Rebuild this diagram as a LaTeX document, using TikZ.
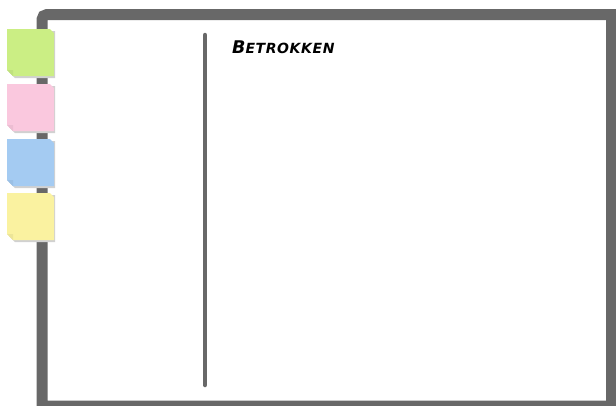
\documentclass[tikz,border=0pt]{standalone}
\usepackage{fontspec}
\newfontfamily\handfont{DejaVu Sans}
\definecolor{framegray}{RGB}{104,104,104}
\definecolor{notegreen}{RGB}{203,238,132}
\definecolor{notepink}{RGB}{250,200,222}
\definecolor{noteblue}{RGB}{164,203,242}
\definecolor{noteyellow}{RGB}{250,242,160}
\begin{document}
\begin{tikzpicture}[x=1pt,y=-1pt,
  frameline/.style={draw=framegray,line width=11pt,line join=miter},
  divider/.style={draw=framegray,line width=4.5pt,line cap=round},
  title/.style={anchor=base west,inner sep=0pt,text=black}]
\useasboundingbox (0,0) rectangle (616,405);
\begin{scope}
\clip (0,0) rectangle (616,405);
\draw[frameline] (611.5,420) -- (611.5,14.5) [rounded corners=5pt] -- (42,14.5) [sharp corners] -- (42,406) -- (630,406);
\end{scope}
\draw[divider] (205,35) coordinate (dtop) -- (205,385) coordinate (dbot);
\node[title] (t) at (232,53.5) {\handfont\bfseries\itshape\fontsize{17.5pt}{18pt}\selectfont B\fontsize{14pt}{14pt}\selectfont E\kern0.6pt T\kern0.6pt R\kern0.6pt O\kern0.6pt K\kern0.6pt K\kern0.6pt E\kern0.6pt N};
% sticky notes
\foreach \c/\y/\n in {notegreen/29/g,notepink/84/p,noteblue/139/b,noteyellow/193/y}{
  \fill[black!18] (9,\y+2) -- (55,\y+2) -- (55,\y+49) -- (15,\y+49) -- (9,\y+43) -- cycle;
  \fill[\c] (7,\y) -- (50,\y) -- (54,\y+4) -- (54,\y+47) -- (13,\y+47) -- (7,\y+41) -- cycle;
  \fill[\c!85!black,opacity=0.35] (7,\y+41) -- (13,\y+41) -- (13,\y+47) -- cycle;
}
\end{tikzpicture}
\end{document}
